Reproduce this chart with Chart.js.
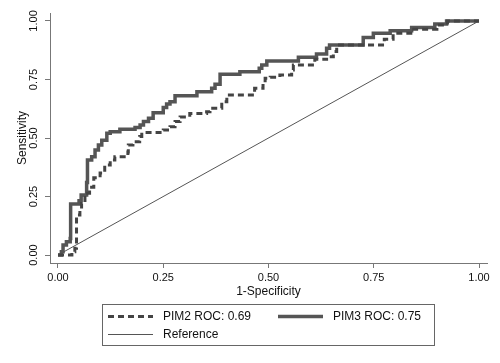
<!DOCTYPE html>
<html>
<head>
<meta charset="utf-8">
<script src="https://cdn.jsdelivr.net/npm/chart.js@4.4.1/dist/chart.umd.min.js"></script>
<style>
  html, body { margin: 0; padding: 0; background: #fff; }
  #wrap { width: 500px; height: 363px; position: relative; }
</style>
</head>
<body>
<div id="wrap"><canvas id="roc"></canvas></div>
<script>
// ROC curves (1-specificity, sensitivity)
const pim2Fpr = [0, 0.017, 0.033, 0.04, 0.044, 0.052, 0.056, 0.064, 0.075, 0.085, 0.1, 0.111, 0.124, 0.135, 0.166, 0.167, 0.178, 0.194, 0.199, 0.25, 0.266, 0.278, 0.29, 0.313, 0.353, 0.361, 0.389, 0.401, 0.467, 0.487, 0.492, 0.504, 0.527, 0.555, 0.559, 0.61, 0.638, 0.654, 0.662, 0.775, 0.796, 0.845, 0.9, 0.925, 1];
const pim2Tpr = [0, 0, 0.014, 0.029, 0.171, 0.192, 0.22, 0.264, 0.29, 0.33, 0.35, 0.385, 0.406, 0.42, 0.44, 0.47, 0.484, 0.506, 0.523, 0.534, 0.548, 0.57, 0.59, 0.605, 0.612, 0.627, 0.655, 0.684, 0.712, 0.733, 0.755, 0.76, 0.769, 0.79, 0.812, 0.836, 0.847, 0.869, 0.897, 0.922, 0.947, 0.965, 0.983, 1, 1];

const pim3Fpr = [0, 0.008, 0.012, 0.02, 0.029, 0.03, 0.05, 0.055, 0.068, 0.07, 0.08, 0.088, 0.096, 0.104, 0.116, 0.124, 0.147, 0.183, 0.195, 0.203, 0.215, 0.226, 0.25, 0.258, 0.266, 0.278, 0.33, 0.365, 0.373, 0.385, 0.432, 0.478, 0.484, 0.496, 0.571, 0.614, 0.638, 0.645, 0.725, 0.749, 0.789, 0.84, 0.895, 0.923, 1];
const pim3Tpr = [0, 0.014, 0.043, 0.057, 0.071, 0.218, 0.232, 0.256, 0.31, 0.406, 0.42, 0.449, 0.47, 0.49, 0.52, 0.527, 0.537, 0.545, 0.556, 0.57, 0.584, 0.608, 0.63, 0.645, 0.655, 0.68, 0.698, 0.712, 0.73, 0.772, 0.783, 0.798, 0.812, 0.829, 0.845, 0.859, 0.883, 0.897, 0.929, 0.947, 0.958, 0.972, 0.987, 1, 1];

const refLine = [0, 1];
const tickValues = [0, 0.25, 0.5, 0.75, 1];
const seriesLabels = ["PIM2 ROC: 0.69", "PIM3 ROC: 0.75", "Reference"];

const FONT = "'Liberation Sans', Arial, sans-serif";
Chart.defaults.font.family = FONT;
Chart.defaults.color = "#111";

function toPoints(xs, ys) {
  return xs.map((x, i) => ({ x: x, y: ys[i] }));
}

// legend box below the plot, in the Stata style
const boxLegend = {
  id: "boxLegend",
  afterDraw(chart) {
    const ctx = chart.ctx;
    const sets = chart.data.datasets;
    ctx.save();
    ctx.strokeStyle = "#666";
    ctx.lineWidth = 1;
    ctx.strokeRect(102.5, 304.5, 332, 41);

    const rows = [
      { ds: sets[0], x: 108, y: 316.5 },
      { ds: sets[1], x: 278, y: 316.5 },
      { ds: sets[2], x: 108, y: 334.5 },
    ];
    ctx.font = "12px " + FONT;
    ctx.textBaseline = "middle";
    ctx.textAlign = "left";
    rows.forEach(r => {
      ctx.beginPath();
      ctx.strokeStyle = r.ds.borderColor;
      ctx.lineWidth = r.ds.borderWidth;
      ctx.setLineDash(r.ds.borderDash || []);
      ctx.moveTo(r.x, r.y);
      ctx.lineTo(r.x + 45, r.y);
      ctx.stroke();
      ctx.setLineDash([]);
      ctx.fillStyle = "#111";
      ctx.fillText(r.ds.label, r.x + 55, r.y + 0.5);
    });
    ctx.restore();
  }
};

const axisBase = {
  type: "linear",
  afterBuildTicks: s => { s.ticks = tickValues.map(v => ({ value: v })); },
  grid: { drawOnChartArea: false, drawTicks: true, tickLength: 5, color: "#777" },
  border: { color: "#777", width: 1 },
};

new Chart(document.getElementById("roc"), {
  type: "line",
  data: {
    datasets: [
      {
        label: seriesLabels[0],
        data: toPoints(pim2Fpr, pim2Tpr),
        borderColor: "#444",
        borderWidth: 3,
        borderDash: [6, 4],
        stepped: true,
        pointRadius: 0,
        fill: false,
      },
      {
        label: seriesLabels[1],
        data: toPoints(pim3Fpr, pim3Tpr),
        borderColor: "#555",
        borderWidth: 3.5,
        stepped: true,
        pointRadius: 0,
        fill: false,
      },
      {
        label: seriesLabels[2],
        data: toPoints(refLine, refLine),
        borderColor: "#555",
        borderWidth: 1,
        pointRadius: 0,
        fill: false,
      },
    ],
  },
  options: {
    responsive: true,
    maintainAspectRatio: false,
    animation: false,
    devicePixelRatio: 1,
    layout: { padding: { top: 13, right: 13, left: 0, bottom: 60 } },
    plugins: {
      legend: { display: false },
      tooltip: { enabled: false },
    },
    scales: {
      x: {
        ...axisBase,
        min: -0.019,
        max: 1.019,
        afterFit: s => { s.height = 40; },
        ticks: {
          callback: v => v.toFixed(2),
          font: { size: 11 },
          color: "#111",
          padding: 3,
          maxRotation: 0,
          autoSkip: false,
        },
        title: {
          display: true,
          text: "1-Specificity",
          font: { size: 12 },
          color: "#111",
          padding: { top: 0, bottom: 4 },
        },
      },
      y: {
        ...axisBase,
        min: -0.034,
        max: 1.034,
        afterFit: s => { s.width = 50; },
        ticks: {
          callback: v => v.toFixed(2),
          font: { size: 11 },
          color: "#111",
          padding: 0,
          minRotation: 90,
          maxRotation: 90,
          crossAlign: "center",
          autoSkip: false,
        },
        title: {
          display: true,
          text: "Sensitivity",
          font: { size: 12 },
          color: "#111",
          padding: { top: 15, bottom: 0 },
        },
      },
    },
  },
  plugins: [boxLegend],
});
</script>
</body>
</html>
